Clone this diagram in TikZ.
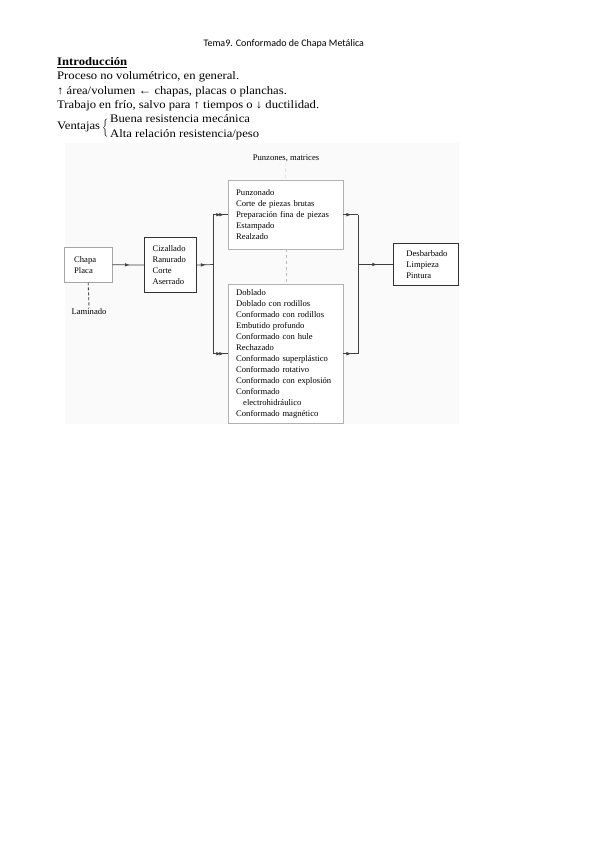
\documentclass[tikz,border=0pt]{standalone}
\usepackage{fontspec}
\setmainfont{Liberation Serif}
\newfontfamily\titlefont{Carlito}
\newfontfamily\bodyfont[FakeStretch=1.1]{Liberation Serif}
\usetikzlibrary{arrows.meta,decorations.markings}

\tikzset{
  stage/.style={draw=gray!60, fill=white, anchor=north west, align=left,
    font=\fontsize{8.6}{11}\selectfont, inner ysep=0pt},
  flow/.style={draw=black!75, line width=0.7pt},
  midarrow/.style={flow, postaction={decorate}, decoration={markings,
    mark=at position 0.55 with {\arrow{Latex[length=5pt,width=3.6pt]}}}},
  nearend/.style={midarrow, decoration={markings,
    mark=at position 0.75 with {\arrow{Latex[length=5pt,width=3.6pt]}}}},
  tooling/.style={draw=gray!55, dashed, line width=0.4pt},
}

\begin{document}
\begin{tikzpicture}[x=1pt,y=-1pt]
  \useasboundingbox (0,0) rectangle (599,848);
  % heading
  \node[anchor=base west, font=\titlefont\fontsize{10}{12}\selectfont] (title) at (200,47) {Tema9. Conformado de Chapa Metálica};
  \begin{scope}[every node/.style={anchor=base west, inner sep=0pt, font=\bodyfont\fontsize{11.5}{14}\selectfont}]
    \node (intro) at (57,66) {\underline{\textbf{Introducción}}};
    \node (l1) at (57,80) {Proceso no volumétrico, en general.};
    \node (l2) at (57,95) {↑ área/volumen ← chapas, placas o planchas.};
    \node (l3) at (57,108.5) {Trabajo en frío, salvo para ↑ tiempos o ↓ ductilidad.};
    \node (ventajas) at (57,130) {Ventajas};
    \node (buena) at (110,123) {Buena resistencia mecánica};
    \node (alta) at (110,137) {Alta relación resistencia/peso};
  \end{scope}
  \node[inner sep=0pt, anchor=east] (llave) at (110,128.5) {$\left\{\vcenter{\hbox{\rule{0pt}{18pt}}}\right.$};

  % image background
  \fill[gray!4] (65,143) rectangle (459,424);

  % sheet
  \node[stage, draw=gray!70, minimum width=48pt, minimum height=35pt, inner xsep=10pt, text width=28pt] (chapa) at (64,247) {Chapa\\Placa};
  \node[font=\fontsize{8.6}{11}\selectfont, inner sep=1pt] (laminado) at (89,312) {Laminado};
  \draw[draw=black!70, line width=0.9pt, dash pattern=on 3pt off 2pt] (chapa.south) -- (laminado.north);

  % cutting
  \node[stage, draw=black!80, line width=1.2pt, minimum width=52pt, minimum height=55pt, inner xsep=8pt, text width=36pt] (corte) at (144,237) {Cizallado\\Ranurado\\Corte\\Aserrado};

  % punches and dies
  \node[font=\fontsize{8.6}{11}\selectfont, inner sep=1pt] (punzones) at (286,158) {Punzones, matrices};
  \node[stage, minimum width=115pt, minimum height=69pt, inner xsep=8pt, text width=99pt] (punzonado) at (228,180)
    {Punzonado\\Corte de piezas brutas\\Preparación fina de piezas\\Estampado\\Realzado};

  % forming
  \node[stage, minimum width=115pt, minimum height=139pt, inner xsep=8pt, text width=99pt] (formado) at (228,284)
    {Doblado\\Doblado con rodillos\\Conformado con rodillos\\Embutido profundo\\Conformado con hule\\Rechazado\\Conformado superplástico\\Conformado rotativo\\Conformado con explosión\\Conformado\\\hspace*{7pt}electrohidráulico\\Conformado magnético};
  \draw[tooling] (punzones.south) -- (punzonado.north);
  \draw[tooling] (punzonado.south) -- (formado.north);

  % finishing
  \node[stage, draw=black!80, line width=0.9pt, minimum width=65pt, minimum height=42pt, inner xsep=13pt, text width=39pt] (acabado) at (393,243) {Desbarbado\\Limpieza\\Pintura};

  % connectors
  \coordinate (busl) at (213,264.5);
  \coordinate (busr) at (358,264.5);
  \draw[midarrow] (chapa.east) -- (corte.west);
  \draw[midarrow] (corte.east) -- (busl);
  \draw[flow] (busl |- punzonado.west) -- (busl |- formado.west);
  \draw[nearend] (busl |- punzonado.west) -- (punzonado.west);
  \draw[nearend] (busl |- formado.west) -- (formado.west);
  \draw[midarrow] (punzonado.east) -- (busr |- punzonado.east);
  \draw[midarrow] (formado.east) -- (busr |- formado.east);
  \draw[flow, line width=1pt] (busr |- punzonado.east) -- (busr |- formado.east);
  \draw[midarrow] (busr) -- (busr -| acabado.west);
\end{tikzpicture}
\end{document}
